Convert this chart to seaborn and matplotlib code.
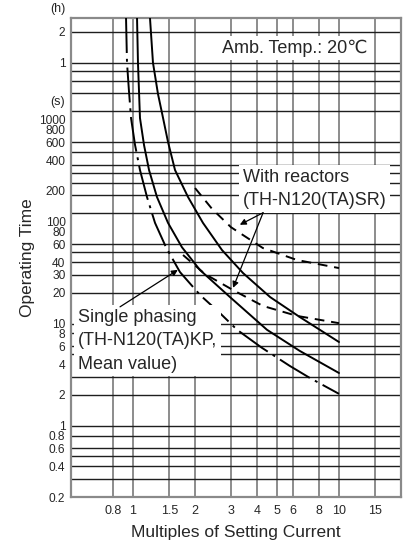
import numpy as np
import pandas as pd
import matplotlib
matplotlib.use("Agg")
import matplotlib.pyplot as plt
import seaborn as sns
from matplotlib.ticker import FixedLocator, FixedFormatter, NullLocator

# Operating time characteristic
# x = multiples of setting current, y = operating time in seconds
single_x = [0.925, 0.935, 0.955, 0.978, 1.023, 1.081, 1.169, 1.279, 1.446, 1.69,
            2.12, 2.64, 3.2, 4.22, 5.78, 7.23, 10]
single_t = [9870, 3600, 1945, 1034, 562, 320, 174, 97, 56, 32,
            19, 12.7, 8.7, 5.8, 3.84, 2.93, 2.05]

mid_x = [1.046, 1.057, 1.081, 1.131, 1.196, 1.307, 1.479, 1.728, 2.114, 2.956, 4.47, 6.45, 10]
mid_t = [9870, 3600, 1034, 562, 320, 174, 97, 56, 33.5, 18.2, 8.7, 5.4, 3.28]

upper_x = [1.209, 1.25, 1.322, 1.383, 1.479, 1.599, 1.849, 2.186, 2.703, 3.42, 4.63, 6.45, 10]
upper_t = [9870, 3600, 1778, 1157, 602, 320, 174, 97, 52.6, 31.3, 18.2, 11.6, 6.6]

react_hi_x = [2.0, 2.42, 2.99, 4.27, 6.25, 10]
react_hi_t = [213, 133, 88, 55, 42, 35]

react_lo_x = [1.749, 2.236, 3.06, 4.27, 6.25, 10]
react_lo_t = [47, 30.6, 21.3, 14.9, 11.9, 10.1]

x_grid = [0.8, 1, 1.5, 2, 3, 4, 5, 6, 8, 10, 15]
x_labels = ["0.8", "1", "1.5", "2", "3", "4", "5", "6", "8", "10", "15"]

# horizontal grid: seconds, then minutes, then hours
y_grid = [0.3, 0.4, 0.5, 0.6, 0.8, 1, 2, 3, 5, 6, 8, 10, 20, 30, 40, 50, 60,
          120, 180, 240, 300, 360, 480, 600, 1200, 1800, 2400, 3000, 3600, 7200]
y_ticks = [0.2, 0.4, 0.6, 0.8, 1, 2, 4, 5, 6, 8, 10, 20, 30, 40, 60, 80, 100,
           200, 400, 600, 800, 1000, 3600, 7200]
y_labels = ["0.2", "0.4", "0.6", "0.8", "1", "2", "4", "", "6", "8", "10", "20", "30",
            "40", "60", "80", "100", "200", "400", "600", "800", "1000", "1", "2"]

sns.set_style("white")
plt.rcParams["font.family"] = ["Liberation Sans", "DejaVu Sans"]

fig = plt.figure(figsize=(4.11, 5.45), dpi=100)
ax = fig.add_axes([71 / 411, 48 / 545, 330 / 411, 479 / 545])
ax.set_xscale("log")
ax.set_yscale("log")
ax.set_xlim(0.5, 20)
ax.set_ylim(0.2, 9870)

for v in x_grid:
    ax.axvline(v, color="#6e6e6e", lw=1.1, zorder=1)
for v in y_grid:
    ax.axhline(v, color="#1e1e1e", lw=1.0, zorder=1)

curve_kw = dict(color="black", lw=1.4, sort=False, estimator=None, ax=ax, zorder=4)
sns.lineplot(x=single_x, y=single_t, linestyle=(0, (18, 3, 1.5, 3)), **curve_kw)
sns.lineplot(x=mid_x, y=mid_t, **curve_kw)
sns.lineplot(x=upper_x, y=upper_t, **curve_kw)
sns.lineplot(x=react_hi_x, y=react_hi_t, linestyle=(0, (5, 3.5)), **curve_kw)
sns.lineplot(x=react_lo_x, y=react_lo_t, linestyle=(0, (5, 3.5)), **curve_kw)

ax.xaxis.set_major_locator(FixedLocator(x_grid))
ax.xaxis.set_major_formatter(FixedFormatter(x_labels))
ax.xaxis.set_minor_locator(NullLocator())
ax.yaxis.set_major_locator(FixedLocator(y_ticks))
ax.yaxis.set_major_formatter(FixedFormatter(y_labels))
ax.yaxis.set_minor_locator(NullLocator())
ax.tick_params(axis="x", length=0, pad=6, labelsize=9)
ax.tick_params(axis="y", length=3.5, width=0.9, pad=0.5, labelsize=8.6, color="#333333")

for s in ax.spines.values():
    s.set_color("#8a8a8a")
    s.set_linewidth(1.6)

ax.set_xlabel("Multiples of Setting Current", fontsize=12.5)
ax.set_ylabel("Operating Time", fontsize=12.5)
ax.xaxis.set_label_coords(0.5, -0.058)
ax.yaxis.set_label_coords(-0.108, 0.5)

ax.text(-0.018, 1.018, "(h)", transform=ax.transAxes, ha="right", va="center", fontsize=9)
ax.text(-0.018, 0.825, "(s)", transform=ax.transAxes, ha="right", va="center", fontsize=9)

box = dict(facecolor="white", edgecolor="none", pad=2.5)
ax.text(0.458, 0.937, "Amb. Temp.: 20℃", transform=ax.transAxes, ha="left", va="center",
        fontsize=13, bbox=box, zorder=5)
ax.text(0.521, 0.643, "With reactors\n(TH-N120(TA)SR)", transform=ax.transAxes, ha="left",
        va="center", fontsize=13, linespacing=1.5, bbox=box, zorder=5)
ax.text(0.021, 0.326, "Single phasing\n(TH-N120(TA)KP,\nMean value)", transform=ax.transAxes,
        ha="left", va="center", fontsize=13, linespacing=1.5, bbox=box, zorder=5)

arrow = dict(arrowstyle="-|>", color="black", lw=0.9, mutation_scale=9, shrinkA=0, shrinkB=0)
ax.annotate("", xy=(3.3, 93), xytext=(4.28, 122), arrowprops=arrow, zorder=6)
ax.annotate("", xy=(3.06, 22.4), xytext=(4.28, 122), arrowprops=arrow, zorder=6)
ax.annotate("", xy=(1.65, 33.6), xytext=(0.865, 14.6), arrowprops=arrow, zorder=6)

fig.savefig("out.png", dpi=100)
